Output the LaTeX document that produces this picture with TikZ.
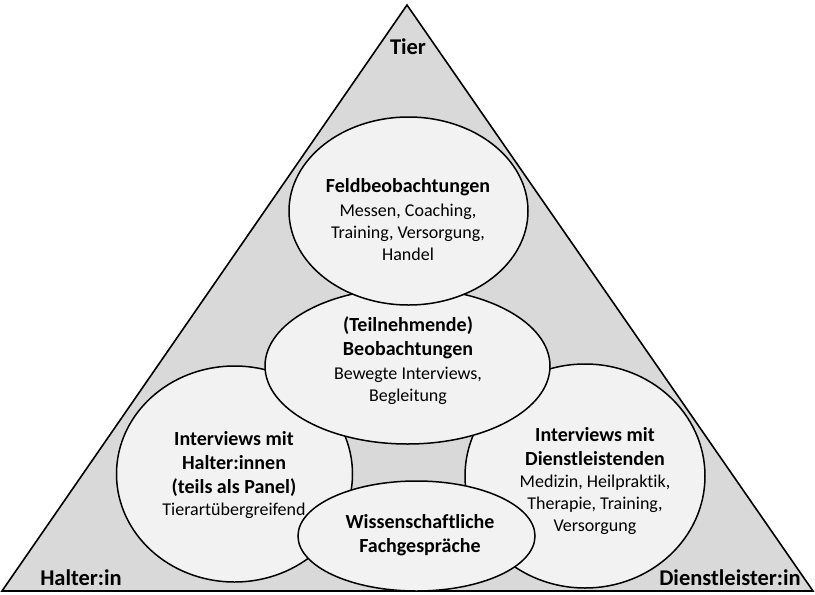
\documentclass[tikz,border=0pt]{standalone}
\usepackage{fontspec}
\setmainfont{Carlito}[Ligatures={NoCommon}]
\usetikzlibrary{shapes.geometric}
\definecolor{trianglegray}{HTML}{D9D9D9}
\definecolor{ovalgray}{HTML}{F2F2F2}
\tikzset{
	oval/.style={ellipse, draw=black, line width=1.5pt, fill=ovalgray, inner sep=0pt},
	ovaltext/.style={align=center, inner sep=0pt, font=\fontsize{18}{22}\selectfont},
	corner/.style={inner sep=0pt, font=\fontsize{22.5}{27}\selectfont\bfseries},
}
\newcommand{\hd}[1]{{\fontsize{20}{24}\selectfont\bfseries #1}}

\begin{document}
\begin{tikzpicture}[x=1pt, y=-1pt]
			%%%%% START %%%%%
			\useasboundingbox (0, 0) rectangle (815, 595);
			
			\coordinate (apex) at (407, 5);
			\coordinate (baseleft) at (2, 591);
			\coordinate (baseright) at (813, 591);
			\draw[line width=1.6pt, fill=trianglegray, line join=miter] (apex) -- (baseleft) -- (baseright) -- cycle;
			
			\node[corner] (tier) at (408, 47) {Tier};
			\node[corner] (halter) at (81, 578) {Halter:in};
			\node[corner] (dienst) at (730, 578) {Dienstleister:in};
			
			\node[oval, minimum width=236pt, minimum height=216pt] (halterinterviews) at (234.5, 474) {};
			\node[oval, minimum width=240pt, minimum height=224pt] (dienstinterviews) at (585, 476) {};
			\node[oval, minimum width=285pt, minimum height=156pt] (teilnehmend) at (407.5, 366) {};
			\node[oval, minimum width=239pt, minimum height=188pt] (feld) at (408.5, 211) {};
			\node[oval, minimum width=237pt, minimum height=110pt] (fachgespraech) at (416.5, 536) {};
			
			\node[ovaltext] (feldtext) at (408, 220) {\hd{Feldbeobachtungen}\\[2pt] Messen, Coaching,\\ Training, Versorgung,\\ Handel};
			\node[ovaltext] (teilnehmendtext) at (408, 361) {\hd{(Teilnehmende)}\\[2pt] \hd{Beobachtungen}\\[2pt] Bewegte Interviews,\\ Begleitung};
			\node[ovaltext] (haltertext) at (234, 475) {\hd{Interviews mit}\\[2pt] \hd{Halter:innen}\\[2pt] \hd{(teils als Panel)}\\ Tierartübergreifend};
			\node[ovaltext] (diensttext) at (595, 481) {\hd{Interviews mit}\\[2pt] \hd{Dienstleistenden}\\ Medizin, Heilpraktik,\\ Therapie, Training,\\ Versorgung};
			\node[ovaltext] (fachtext) at (420, 535.5) {\hd{Wissenschaftliche}\\[2pt] \hd{Fachgespräche}};
			
			%%%%% END %%%%%
\end{tikzpicture}
\end{document}
